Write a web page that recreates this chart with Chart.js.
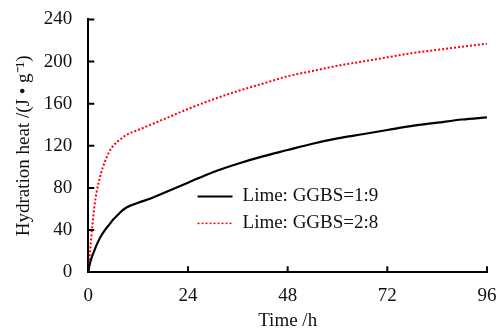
<!DOCTYPE html>
<html>
<head>
<meta charset="utf-8">
<script src="https://cdn.jsdelivr.net/npm/chart.js@4"></script>
<style>
  html, body { margin: 0; padding: 0; background: #fff; }
  #wrap { width: 501px; height: 331px; }
</style>
</head>
<body>
<div id="wrap"><canvas id="heatChart"></canvas></div>
<script>
// Hydration time (h) shared by both series
const times = [0, 0.25, 0.5, 1, 1.5, 2, 3, 4, 5, 6, 7, 8, 9, 10, 12, 15, 18, 21, 24, 30, 36, 42, 48, 54, 60, 66, 72, 78, 84, 90, 96];
// Cumulative hydration heat, J/g
const heat19 = [0, 6, 10, 16, 21, 26, 34, 40, 45, 50, 54, 58, 61, 63, 66, 70, 75, 80, 85, 95, 103, 110, 116, 122, 127, 131, 135, 139, 142, 145, 147];
const heat28 = [0, 12, 23, 45, 63, 76, 93, 105, 114, 120, 124, 127, 130, 132, 135, 140, 145, 150, 155, 164, 172, 179, 186, 191, 196, 200, 204, 208, 211, 214, 217];
const seriesNames = ['Lime: GGBS=1:9', 'Lime: GGBS=2:8'];
const xTicks = [0, 24, 48, 72, 96];
const yTicks = [0, 40, 80, 120, 160, 200, 240];

const FONT = { family: '"Liberation Serif", "Times New Roman", serif', size: 19 };

function toPoints(vals) {
    return times.map((t, i) => ({ x: t, y: vals[i] }));
}

// short tick marks pointing into the plot, plus the legend inside the plot
const innerTicks = {
    id: 'innerTicks',
    afterDraw(chart) {
        const ctx = chart.ctx;
        const xs = chart.scales.x, ys = chart.scales.y;
        ctx.save();
        ctx.strokeStyle = '#000';
        ctx.lineWidth = 2;
        ctx.beginPath();
        xTicks.forEach(v => {
            if (v === 0) return;
            const px = xs.getPixelForValue(v);
            ctx.moveTo(px, ys.bottom);
            ctx.lineTo(px, ys.bottom - 6);
        });
        yTicks.forEach(v => {
            if (v === 0) return;
            const py = ys.getPixelForValue(v);
            ctx.moveTo(xs.left, py);
            ctx.lineTo(xs.left + 6, py);
        });
        ctx.stroke();

        // legend
        const lx = xs.getPixelForValue(26.3);
        const ly = ys.getPixelForValue(72);
        const gap = 27;
        ctx.font = FONT.size + 'px ' + FONT.family;
        ctx.textBaseline = 'middle';
        ctx.fillStyle = '#111';
        chart.data.datasets.forEach((ds, i) => {
            const y = ly + i * gap;
            ctx.beginPath();
            ctx.strokeStyle = ds.borderColor;
            ctx.lineWidth = i === 0 ? 2 : 1.5;
            ctx.setLineDash(ds.borderDash || []);
            ctx.moveTo(lx, y);
            ctx.lineTo(lx + 35, y);
            ctx.stroke();
            ctx.setLineDash([]);
            ctx.fillText(ds.label, lx + 45, y);
        });
        ctx.restore();
    }
};

new Chart(document.getElementById('heatChart'), {
    type: 'line',
    data: {
        datasets: [{
            label: seriesNames[0],
            data: toPoints(heat19),
            borderColor: '#000000',
            borderWidth: 2.2,
            pointRadius: 0,
            cubicInterpolationMode: 'monotone'
        }, {
            label: seriesNames[1],
            data: toPoints(heat28),
            borderColor: '#ff0000',
            borderWidth: 2,
            borderDash: [2, 2],
            pointRadius: 0,
            cubicInterpolationMode: 'monotone'
        }]
    },
    options: {
        responsive: true,
        maintainAspectRatio: false,
        animation: false,
        layout: { padding: { top: 6, right: 14, left: 13, bottom: 0 } },
        plugins: {
            legend: { display: false },
            tooltip: { enabled: false }
        },
        scales: {
            x: {
                type: 'linear',
                min: 0,
                max: 96,
                afterBuildTicks: axis => { axis.ticks = xTicks.map(v => ({ value: v })); },
                ticks: { font: FONT, color: '#111', padding: 4, maxRotation: 0 },
                grid: { display: false },
                border: { display: true, color: '#000', width: 2 },
                title: { display: true, text: 'Time /h', font: Object.assign({ lineHeight: 1.05 }, FONT), color: '#111', padding: { top: 0, bottom: 0 } }
            },
            y: {
                min: 0,
                max: 240,
                afterBuildTicks: axis => { axis.ticks = yTicks.map(v => ({ value: v })); },
                ticks: { font: FONT, color: '#111', padding: 8 },
                grid: { display: false },
                border: { display: true, color: '#000', width: 2 },
                title: { display: true, text: 'Hydration heat /(J • g\u207B\u00B9)', font: FONT, color: '#111', padding: { top: 0, bottom: 0 } }
            }
        }
    },
    plugins: [innerTicks]
});
</script>
</body>
</html>
